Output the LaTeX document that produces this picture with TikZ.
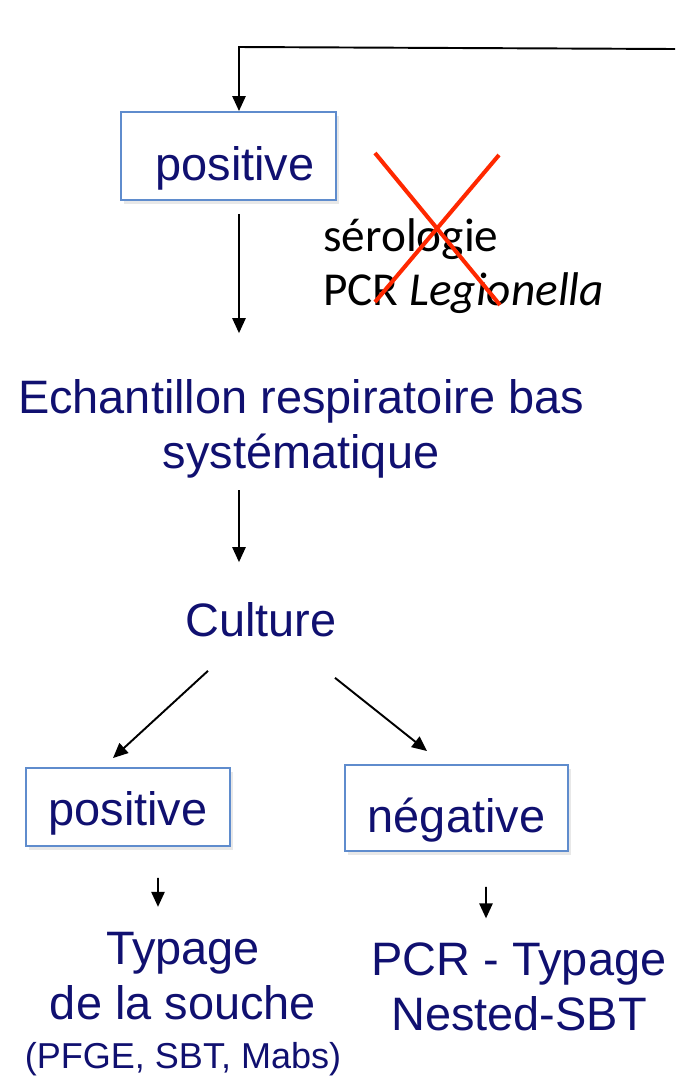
\documentclass[tikz,border=0pt]{standalone}
\usepackage{fontspec}
\setmainfont{Liberation Sans}
\newfontfamily\calibri{Carlito}
\usetikzlibrary{arrows.meta,shadows}
\definecolor{navy}{RGB}{16,16,112}
\definecolor{boxblue}{RGB}{95,140,205}
\definecolor{crossred}{RGB}{255,40,0}
\tikzset{
  resbox/.style={draw=boxblue, line width=1.1pt, text=navy, fill=white, inner sep=0pt,
    drop shadow={shadow xshift=1.5pt, shadow yshift=-2pt, opacity=0.18}},
  stage/.style={text=navy, inner sep=2pt, align=center},
  big/.style={font=\fontsize{26.7}{31.3}\selectfont},
  flow/.style={-{Triangle[length=8.5pt,width=7.5pt]}, line width=1.1pt}
}
\begin{document}
\begin{tikzpicture}[big]
\useasboundingbox (0,0) rectangle (13.5,-21.52);
\coordinate (topright) at (13.5,-0.98);
\coordinate (corner) at (4.78,-0.94);

\node [resbox, minimum width=4.3cm, minimum height=1.76cm, text height=0.96cm, text depth=0pt] (pos1) at (4.57,-3.12) {\hspace{0.26cm}positive};
\node [anchor=base west, align=left, inner sep=0pt, font=\calibri\fontsize{26.9}{30.4}\selectfont] (sero) at (6.46,-6.1) {sérologie\\PCR \textit{Legionella}};
\draw [crossred, line width=2.3pt] (7.5,-3.06) -- (10.0,-6.1) (9.98,-3.1) -- (7.5,-6.04);

\node [stage, anchor=base] (echant) at (6.02,-9.36) {Echantillon respiratoire bas\\systématique};
\node [stage, anchor=base] (culture) at (5.22,-12.72) {Culture};

\node [resbox, minimum width=4.08cm, minimum height=1.56cm, text height=0.72cm, text depth=0pt] (pos2) at (2.56,-16.14) {positive};
\node [resbox, minimum width=4.46cm, minimum height=1.72cm, text height=0.96cm, text depth=0pt] (neg) at (9.13,-16.16) {négative};

\node [stage, anchor=base] (typage) at (3.66,-21.36) {Typage\\de la souche\\[-0.12cm]{\fontsize{20.5}{27.3}\selectfont (PFGE, SBT, Mabs)}};
\node [stage, anchor=base] (pcr) at (10.38,-20.6) {PCR - Typage\\Nested-SBT};

% fleches
\draw [flow] (topright) -- (corner) -- (corner |- pos1.north);
\draw [flow, shorten <=0.26cm, shorten >=0.84cm] (pos1.south -| corner) -- (echant.north -| corner);
\draw [flow, shorten <=0.17cm, shorten >=0.72cm] (echant.south -| corner) -- (culture.north -| corner);
\draw [flow] ([shift={(-1.06,-0.61)}]culture.south) -- ([shift={(-0.3,0.18)}]pos2.north);
\draw [flow] ([shift={(1.48,-0.75)}]culture.south) -- ([shift={(-0.59,0.26)}]neg.north);
\draw [flow] ([shift={(0.6,-0.62)}]pos2.south) -- ([shift={(-0.5,0.42)}]typage.north);
\draw [flow] ([shift={(0.59,-0.7)}]neg.south) -- ([shift={(-0.66,0.4)}]pcr.north);

\end{tikzpicture}
\end{document}
